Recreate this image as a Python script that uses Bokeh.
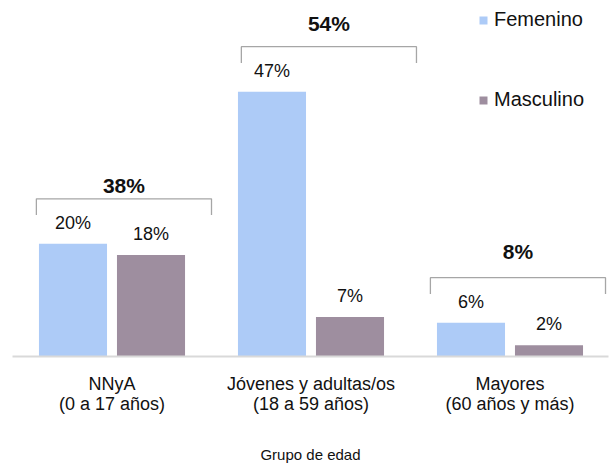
from bokeh.plotting import figure
from bokeh.models import ColumnDataSource, Range1d, FixedTicker, Legend, LegendItem
from bokeh.core.properties import value
from bokeh.embed import file_html
from bokeh.resources import INLINE

# ---------------- data ----------------
group_labels = ["NNyA\n(0 a 17 años)",
                "Jóvenes y adultas/os\n(18 a 59 años)",
                "Mayores\n(60 años y más)"]
femenino = [20, 47, 6]
masculino = [18, 7, 2]
series_names = ["Femenino", "Masculino"]
axis_title = "Grupo de edad"

# ---------------- style / layout ----------------
F_COLOR = "#ADCBF7"
M_COLOR = "#9E8E9F"
BRACKET_COLOR = "#A6A6A6"
FONT = "Liberation Sans"
dodge = 0.196
bar_w = 0.342
bracket_left = [-0.38, -0.35, -0.40]   # left end of bracket relative to group centre
bracket_w = 0.88
bracket_gap = 8.0                        # data units above the tallest bar
tick_len = 2.9
total_gap_px = [13, 23, 26]              # label centre above bracket line (px)

xs = list(range(len(femenino)))
fx = [x - dodge for x in xs]
mx = [x + dodge for x in xs]

p = figure(width=614, height=465, output_backend="svg", toolbar_location=None,
           x_range=Range1d(-0.5, 2.495), y_range=Range1d(0, 63.2),
           y_axis_location=None, min_border_left=12, min_border_right=6,
           min_border_top=0, min_border_bottom=108)
p.outline_line_color = None
p.xgrid.visible = False
p.ygrid.visible = False
p.background_fill_color = "white"

src_f = ColumnDataSource(dict(x=fx, top=femenino, lab=[f"{v}%" for v in femenino]))
src_m = ColumnDataSource(dict(x=mx, top=masculino, lab=[f"{v}%" for v in masculino]))

rf = p.vbar(x="x", top="top", width=bar_w, bottom=0, source=src_f,
            fill_color=F_COLOR, line_color=None)
rm = p.vbar(x="x", top="top", width=bar_w, bottom=0, source=src_m,
            fill_color=M_COLOR, line_color=None)

for src in (src_f, src_m):
    p.text(x="x", y="top", text="lab", source=src, text_align="center",
           text_baseline="middle", y_offset=-21, text_font=value(FONT),
           text_font_size="18px", text_color="#111111")

# brackets and totals
totals = [f + m for f, m in zip(femenino, masculino)]
b_xs, b_ys, t_x, t_y = [], [], [], []
for i, x in enumerate(xs):
    top = max(femenino[i], masculino[i]) + bracket_gap
    l = x + bracket_left[i]
    r = l + bracket_w
    b_xs.append([l, l, r, r])
    b_ys.append([top - tick_len, top, top, top - tick_len])
    t_x.append((l + r) / 2)
    t_y.append(top)
p.multi_line(xs=b_xs, ys=b_ys, line_color=BRACKET_COLOR, line_width=1.3)
for i in range(len(xs)):
    p.text(x=[t_x[i]], y=[t_y[i]], text=[f"{totals[i]}%"], text_align="center",
           text_baseline="middle", y_offset=-total_gap_px[i], text_font=value(FONT),
           text_font_size="21px", text_font_style="bold", text_color="#111111")

# x axis
ax = p.xaxis[0]
ax.ticker = FixedTicker(ticks=xs)
ax.major_label_overrides = {i: g for i, g in enumerate(group_labels)}
ax.major_tick_line_color = None
ax.major_tick_out = 0
ax.minor_tick_line_color = None
ax.axis_line_color = "#D9D9D9"
ax.axis_line_width = 2
ax.major_label_standoff = 17
ax.major_label_text_font = FONT
ax.major_label_text_font_size = "18px"
ax.major_label_text_line_height = 1.0
ax.major_label_text_color = "#111111"
ax.axis_label = axis_title
ax.axis_label_text_font = FONT
ax.axis_label_text_font_size = "15px"
ax.axis_label_text_font_style = "normal"
ax.axis_label_text_color = "#111111"
ax.axis_label_standoff = 29

legend = Legend(items=[LegendItem(label=series_names[0], renderers=[rf]),
                       LegendItem(label=series_names[1], renderers=[rm])],
                location=(466, 245), orientation="vertical",
                glyph_width=10, glyph_height=10, label_standoff=6,
                spacing=57, padding=0, margin=0,
                label_text_font=FONT, label_text_font_size="20px",
                label_text_color="#111111",
                border_line_color=None, background_fill_alpha=0)
p.add_layout(legend)

open("out.html", "w").write(file_html(p, INLINE))
